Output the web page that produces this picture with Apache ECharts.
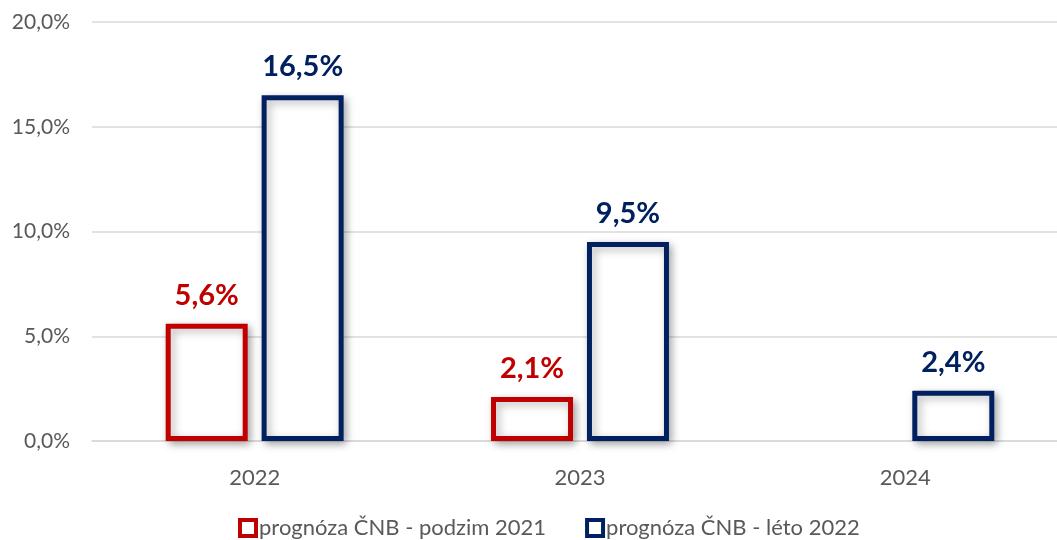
<!DOCTYPE html>
<html>
<head>
<meta charset="utf-8">
<script src="https://cdn.jsdelivr.net/npm/echarts@6/dist/echarts.min.js"></script>
<style>
  html, body { margin: 0; padding: 0; background: #fff; overflow: hidden; }
  #chart { width: 1068px; height: 540px; }
</style>
</head>
<body>
<div id="chart"></div>
<script>
var years = ['2022', '2023', '2024'];
var podzim2021 = [5.6, 2.1, null];
var leto2022 = [16.5, 9.5, 2.4];
var seriesNames = ['prognóza ČNB - podzim 2021', 'prognóza ČNB - léto 2022'];

var fontFam = 'Lato, "Open Sans", sans-serif';
function pct(v) { return v.toFixed(1).replace('.', ',') + '%'; }

var myChart = echarts.init(document.getElementById('chart'));

function barSeries(name, data, color) {
  return {
    name: name,
    type: 'bar',
    data: data,
    barWidth: 82,
    barGap: '17%',
    itemStyle: {
      color: '#ffffff',
      borderColor: color,
      borderWidth: 5,
      shadowBlur: 8,
      shadowOffsetX: 3,
      shadowOffsetY: 3,
      shadowColor: 'rgba(0,0,0,0.3)'
    },
    label: {
      show: true,
      position: 'top',
      distance: 14,
      color: color,
      fontFamily: fontFam,
      fontWeight: 'bold',
      fontSize: 29,
      formatter: function (p) { return pct(p.value); }
    }
  };
}

// plot area runs a bit past the right edge of the window, like the original
var option = {
  animation: false,
  grid: { left: 92, right: 0, top: 22, bottom: 99 },
  legend: {
    top: 512,
    left: 233,
    itemWidth: 16,
    itemHeight: 16,
    itemGap: 39,
    icon: 'rect',
    itemStyle: { borderWidth: 4, shadowBlur: 0, shadowOffsetX: 0, shadowOffsetY: 0 },
    textStyle: { color: '#595959', fontSize: 22, fontFamily: fontFam, padding: [0, 0, 0, -2] },
    data: seriesNames
  },
  xAxis: {
    type: 'category',
    data: years,
    axisLine: { lineStyle: { color: '#d9d9d9', width: 1.5 } },
    axisTick: { show: false },
    axisLabel: { color: '#595959', fontSize: 22, fontFamily: fontFam, margin: 26 }
  },
  yAxis: {
    type: 'value',
    min: 0,
    max: 20,
    interval: 5,
    axisLine: { show: false },
    axisTick: { show: false },
    splitLine: { lineStyle: { color: '#d9d9d9', width: 1.5 } },
    axisLabel: { color: '#595959', fontSize: 21, fontFamily: fontFam, margin: 22, formatter: pct }
  },
  series: [
    barSeries(seriesNames[0], podzim2021, '#c00000'),
    barSeries(seriesNames[1], leto2022, '#002060')
  ]
};

myChart.setOption(option);
</script>
</body>
</html>
